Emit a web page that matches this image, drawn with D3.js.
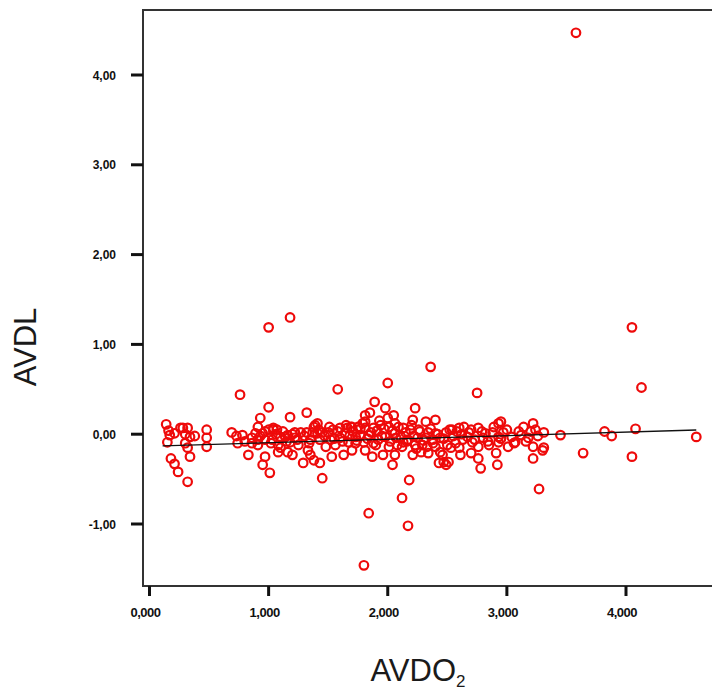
<!DOCTYPE html>
<html lang="en">
	<head>
		<meta charset="utf-8">
		<title>AVDL vs AVDO2</title>
		<script type="text/javascript" src="https://d3js.org/d3.v7.min.js"></script>
		<style type="text/css">
			body { margin: 0; background: #fff; }
			text { font-family: "Liberation Sans", Arial, sans-serif; }
		</style>
	</head>
	<body>
		<script type="text/javascript">

			//Width and height
			var w = 712;
			var h = 693;

			// AVDO2 (x) and AVDL (y)
			var avdo2 = [0.14,0.16,0.17,0.21,0.15,0.28,0.32,0.30,0.38,0.34,0.48,0.48,0.48,0.30,0.32,0.34,0.18,0.21,0.24,0.32,0.26,
				0.69,0.73,0.78,0.74,0.80,0.83,0.86,0.76,
				1.00,0.93,1.18,1.32,0.91,0.95,1.00,1.04,1.07,0.86,0.91,0.97,1.03,1.08,1.14,0.89,0.91,0.97,0.95,1.01,1.04,1.10,1.16,1.16,1.08,1.18,
				1.22,1.27,1.32,1.37,1.41,1.41,1.45,1.50,1.54,1.60,1.66,1.70,1.20,1.29,1.38,1.43,1.45,1.53,1.63,1.56,1.48,1.33,1.25,1.35,1.39,1.58,1.18,1.00,
				2.00,1.89,1.85,1.98,2.05,2.23,2.21,2.32,1.81,2.36,1.69,1.75,1.81,1.88,1.94,2.01,2.06,2.13,2.19,2.26,2.34,2.40,2.49,2.54,
				1.67,1.73,1.80,1.87,1.96,2.04,2.01,2.08,2.21,2.13,2.29,2.34,2.40,2.46,2.47,2.43,2.51,2.38,2.25,1.92,1.77,2.18,2.12,2.17,1.84,1.80,
				2.60,2.64,2.70,2.76,2.82,2.93,2.97,2.88,3.14,3.22,3.24,3.31,2.57,2.63,2.71,2.76,2.85,2.93,3.01,3.07,2.61,2.70,2.76,2.78,2.91,2.92,
				3.18,3.22,3.31,3.22,2.49,2.75,3.27,3.06,3.30,2.95,
				3.45,3.64,3.82,3.88,4.08,4.05,4.13,4.59,3.58,4.05,
				1.60,1.64,1.73,1.84,1.90,1.98,2.06,2.11,2.17,2.23,2.32,2.44,2.53,2.28,2.06,1.81,1.70,1.52,1.43,1.35,1.81,1.10,1.22,
				2.67,2.80,3.12,2.93,2.60,2.40,2.00,
				1.42,1.47,1.51,1.55,1.58,1.62,1.65,1.68,1.71,1.74,1.77,1.79,1.83,1.86,1.88,1.91,1.93,1.95,1.97,2.02,2.04,2.07,2.09,2.12,2.15,
				2.16,2.20,2.22,2.24,2.27,2.30,2.33,2.36,2.38,2.42,2.44,2.47,2.50,2.52,2.55,2.58,2.62,
				0.93,0.97,1.02,1.06,1.12,1.15,1.20,1.24,1.30,1.34,1.38,
				2.68,2.73,2.79,2.84,2.89,2.95,3.00,3.04,3.10,3.16,3.20,3.26];
			var avdl = [0.11,0.04,-0.01,0.01,-0.09,0.07,0.07,0.00,-0.02,-0.03,0.05,-0.04,-0.14,-0.10,-0.15,-0.25,-0.27,-0.33,-0.42,-0.53,0.07,
				0.02,-0.02,-0.01,-0.10,-0.08,-0.23,-0.10,0.44,
				0.30,0.18,0.19,0.24,0.08,0.01,0.05,0.05,0.05,-0.04,-0.06,-0.06,-0.06,-0.12,-0.03,0.01,-0.12,-0.25,-0.34,-0.43,0.07,-0.15,-0.20,-0.01,-0.20,-0.09,
				0.02,0.02,0.02,0.02,0.12,0.01,0.02,0.02,0.05,0.07,0.07,0.08,-0.23,-0.32,-0.29,-0.32,-0.49,-0.25,-0.23,-0.12,-0.14,-0.18,-0.12,-0.23,0.10,0.50,1.30,1.19,
				0.57,0.36,0.24,0.29,0.21,0.29,0.16,0.14,0.21,0.75,0.08,0.08,0.07,0.07,0.10,0.08,0.12,0.07,0.05,0.05,0.02,0.01,0.02,0.05,
				-0.09,-0.10,-0.09,-0.25,-0.23,-0.34,-0.14,-0.12,-0.23,-0.09,-0.12,-0.21,-0.14,-0.23,-0.31,-0.32,-0.31,-0.06,-0.04,-0.06,-0.01,-0.51,-0.71,-1.02,-0.88,-1.46,
				0.07,0.08,0.05,0.07,0.01,0.12,0.02,0.02,0.08,0.12,0.05,0.02,-0.10,-0.06,-0.09,-0.14,-0.12,-0.09,-0.14,-0.09,-0.23,-0.21,-0.27,-0.38,-0.21,-0.34,
				-0.04,-0.14,-0.15,-0.27,-0.34,0.46,-0.61,-0.10,-0.18,0.14,
				-0.01,-0.21,0.03,-0.02,0.06,-0.25,0.52,-0.03,4.47,1.19,
				-0.04,0.01,-0.03,-0.01,-0.12,-0.03,0.01,-0.03,-0.06,-0.12,-0.04,-0.04,-0.15,-0.20,-0.23,-0.18,-0.18,-0.06,-0.06,-0.06,0.14,-0.03,-0.04,
				-0.03,-0.04,-0.01,-0.03,-0.15,0.16,0.18,
				0.05,-0.02,0.08,-0.05,0.03,-0.08,0.10,-0.02,0.03,-0.07,0.06,0.12,-0.05,0.02,-0.10,0.04,0.15,-0.02,0.06,-0.08,0.04,-0.04,0.08,-0.14,0.02,
				-0.08,0.10,-0.02,-0.16,0.03,-0.07,-0.14,0.06,-0.10,0.00,-0.20,-0.05,-0.12,0.05,-0.02,0.03,0.00,
				-0.02,0.03,-0.10,0.00,0.03,-0.08,0.00,-0.06,-0.02,-0.10,0.08,
				0.02,-0.06,0.03,-0.08,0.08,-0.05,0.05,-0.03,0.03,-0.08,0.03,-0.02];

			// fit line end points
			var fitX = [0.11, 4.59];
			var fitY = [-0.13, 0.047];

			var xTicks = [0, 1, 2, 3, 4];
			var xTickLabels = ["0,000", "1,000", "2,000", "3,000", "4,000"];
			var yTicks = [-1, 0, 1, 2, 3, 4];
			var yTickLabels = ["-1,00", "0,00", "1,00", "2,00", "3,00", "4,00"];

			var frame = { left: 143, top: 10, bottom: 586 };

			var x = d3.scaleLinear().domain([0, 4]).range([149.5, 626]);
			var y = d3.scaleLinear().domain([-1, 4]).range([524, 75]);

			//Create SVG element
			var svg = d3.select("body")
						.append("svg")
						.attr("width", w)
						.attr("height", h);

			// frame (right side runs off the picture)
			svg.append("path")
				.attr("d", "M" + (w + 5) + "," + frame.top + "H" + frame.left + "V" + frame.bottom + "H" + (w + 5))
				.attr("fill", "none")
				.attr("stroke", "#333")
				.attr("stroke-width", 2);

			// y ticks
			svg.selectAll("line.ytick")
				.data(yTicks)
				.enter()
				.append("line")
				.attr("class", "ytick")
				.attr("x1", frame.left - 12)
				.attr("x2", frame.left)
				.attr("y1", function(d) { return y(d); })
				.attr("y2", function(d) { return y(d); })
				.attr("stroke", "#111")
				.attr("stroke-width", 3);

			svg.selectAll("text.ylab")
				.data(yTicks)
				.enter()
				.append("text")
				.attr("class", "ylab")
				.attr("x", 116)
				.attr("y", function(d) { return y(d) + 4.5; })
				.attr("text-anchor", "end")
				.style("font-size", "12px")
				.style("font-weight", "bold")
				.style("fill", "#111")
				.text(function(d, i) { return yTickLabels[i]; });

			// x ticks
			svg.selectAll("line.xtick")
				.data(xTicks)
				.enter()
				.append("line")
				.attr("class", "xtick")
				.attr("x1", function(d) { return x(d); })
				.attr("x2", function(d) { return x(d); })
				.attr("y1", frame.bottom)
				.attr("y2", frame.bottom + 10)
				.attr("stroke", "#111")
				.attr("stroke-width", 3);

			svg.selectAll("text.xlab")
				.data(xTicks)
				.enter()
				.append("text")
				.attr("class", "xlab")
				.attr("x", function(d) { return x(d) - 4; })
				.attr("y", 617)
				.attr("text-anchor", "middle")
				.style("font-size", "13px")
				.style("font-weight", "bold")
				.style("letter-spacing", "-0.5px")
				.style("fill", "#111")
				.text(function(d, i) { return xTickLabels[i]; });

			// points
			svg.selectAll("circle")
				.data(avdo2)
				.enter()
				.append("circle")
				.attr("cx", function(d) { return x(d); })
				.attr("cy", function(d, i) { return y(avdl[i]); })
				.attr("r", 4.3)
				.attr("fill", "none")
				.attr("stroke", "#ee0a0a")
				.attr("stroke-width", 2.2);

			// fit line
			var line = d3.line()
				.x(function(d) { return x(d); })
				.y(function(d, i) { return y(fitY[i]); });

			svg.append("path")
				.attr("d", line(fitX))
				.attr("fill", "none")
				.attr("stroke", "#111")
				.attr("stroke-width", 1.3);

			// axis titles
			svg.append("text")
				.attr("transform", "translate(36,347) rotate(-90)")
				.attr("text-anchor", "middle")
				.style("font-size", "31px")
				.style("fill", "#1a1a1a")
				.text("AVDL");

			var xt = svg.append("text")
				.attr("x", 418)
				.attr("y", 681)
				.attr("text-anchor", "middle")
				.style("font-size", "31px")
				.style("fill", "#1a1a1a");
			xt.append("tspan").text("AVDO");
			xt.append("tspan")
				.attr("dy", 6)
				.style("font-size", "17px")
				.text("2");
		</script>
	</body>
</html>
